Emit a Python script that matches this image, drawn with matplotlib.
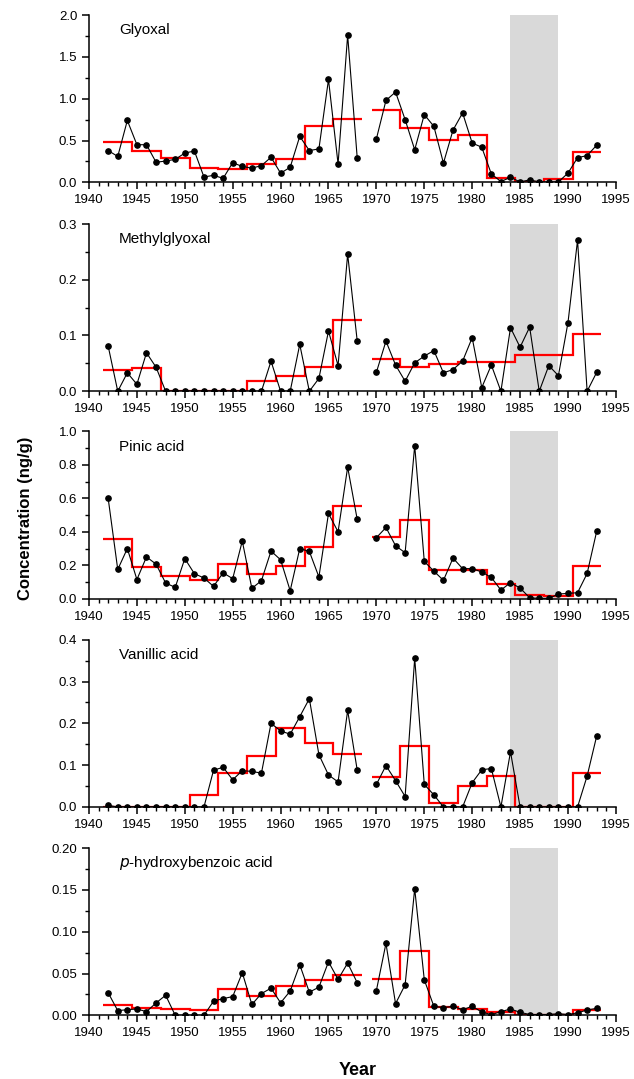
import numpy as np
import matplotlib.pyplot as plt
from matplotlib.ticker import MultipleLocator

plt.rcParams['font.family'] = ['Liberation Sans', 'DejaVu Sans']

# years with measurements (no sample for 1969)
years_a = np.arange(1942, 1969)
years_b = np.arange(1970, 1994)
# 3-year bin edges for the red averages
edges_a = np.arange(1941.5, 1969, 3)
edges_b = np.arange(1969.5, 1994, 3)

# --- Glyoxal ---
gly_a = [0.38, 0.31, 0.74, 0.45, 0.45, 0.24, 0.255, 0.275, 0.35, 0.375, 0.064, 0.084, 0.048, 0.235,
         0.19, 0.17, 0.20, 0.30, 0.11, 0.18, 0.55, 0.38, 0.40, 1.23, 0.22, 1.76, 0.29]
gly_b = [0.52, 0.98, 1.08, 0.75, 0.39, 0.81, 0.67, 0.23, 0.625, 0.83, 0.47, 0.42, 0.10, 0.01,
         0.06, 0.005, 0.03, 0.005, 0.005, 0.005, 0.11, 0.295, 0.32, 0.445]
gly_avg_a = [0.48, 0.38, 0.29, 0.17, 0.155, 0.22, 0.28, 0.67, 0.76]
gly_avg_b = [0.86, 0.65, 0.505, 0.57, 0.05, 0.01, 0.035, 0.36]

# --- Methylglyoxal ---
mgly_a = [0.081, 0.0, 0.033, 0.0125, 0.069, 0.043, 0.0, 0.0, 0.0, 0.0, 0.0, 0.0, 0.0, 0.0,
          0.0, 0.0, 0.0, 0.054, 0.0, 0.0, 0.084, 0.0, 0.023, 0.108, 0.046, 0.246, 0.090]
mgly_b = [0.034, 0.090, 0.047, 0.018, 0.051, 0.063, 0.073, 0.033, 0.039, 0.054, 0.096, 0.0066,
          0.047, 0.0, 0.114, 0.079, 0.115, 0.0, 0.046, 0.028, 0.123, 0.271, 0.0, 0.034]
mgly_avg_a = [0.038, 0.041, 0.0, 0.0, 0.0, 0.018, 0.028, 0.044, 0.127]
mgly_avg_b = [0.057, 0.044, 0.048, 0.052, 0.053, 0.065, 0.065, 0.102]

# --- Pinic acid ---
pin_a = [0.60, 0.175, 0.30, 0.115, 0.25, 0.207, 0.094, 0.068, 0.24, 0.15, 0.124, 0.074, 0.155,
         0.12, 0.345, 0.062, 0.108, 0.285, 0.233, 0.048, 0.30, 0.283, 0.13, 0.51, 0.40, 0.787, 0.474]
pin_b = [0.365, 0.426, 0.317, 0.275, 0.916, 0.223, 0.165, 0.11, 0.243, 0.18, 0.18, 0.16, 0.127,
         0.052, 0.096, 0.064, 0.006, 0.002, 0.002, 0.028, 0.032, 0.036, 0.151, 0.404]
pin_avg_a = [0.358, 0.19, 0.135, 0.115, 0.207, 0.15, 0.195, 0.307, 0.554]
pin_avg_b = [0.367, 0.472, 0.171, 0.171, 0.09, 0.024, 0.018, 0.197]

# --- Vanillic acid ---
van_a = [0.004, 0.0, 0.0, 0.0, 0.0, 0.0, 0.0, 0.0, 0.0, 0.0, 0.0, 0.088, 0.095, 0.065, 0.087,
         0.085, 0.081, 0.20, 0.182, 0.174, 0.216, 0.259, 0.125, 0.0765, 0.06, 0.231, 0.088]
van_b = [0.054, 0.099, 0.063, 0.025, 0.356, 0.054, 0.029, 0.0, 0.0, 0.0, 0.058, 0.089, 0.092,
         0.0, 0.132, 0.0, 0.0, 0.0, 0.0, 0.0, 0.0, 0.0, 0.074, 0.17]
van_avg_a = [0.0, 0.0, 0.0, 0.0295, 0.082, 0.122, 0.19, 0.154, 0.126]
van_avg_b = [0.072, 0.145, 0.0096, 0.049, 0.075, 0.0, 0.0, 0.081]

# --- p-hydroxybenzoic acid ---
phb_a = [0.027, 0.0056, 0.0068, 0.0076, 0.0044, 0.0148, 0.024, 0.0, 0.0, 0.0, 0.0, 0.017, 0.020,
         0.0224, 0.051, 0.013, 0.026, 0.0325, 0.015, 0.029, 0.0605, 0.0277, 0.0337, 0.064, 0.043,
         0.0625, 0.039]
phb_b = [0.0297, 0.086, 0.014, 0.0365, 0.1515, 0.0425, 0.0108, 0.0092, 0.0108, 0.0068, 0.0108,
         0.004, 0.0008, 0.0044, 0.0076, 0.0036, 0.001, 0.001, 0.001, 0.002, 0.001, 0.003, 0.0064,
         0.0084]
phb_avg_a = [0.0128, 0.0092, 0.008, 0.006, 0.031, 0.0236, 0.0345, 0.0417, 0.048]
phb_avg_b = [0.0433, 0.0766, 0.0104, 0.0072, 0.004, 0.001, 0.001, 0.006]

panels = [
    ("Glyoxal", gly_a, gly_b, gly_avg_a, gly_avg_b, 2.0, 0.5),
    ("Methylglyoxal", mgly_a, mgly_b, mgly_avg_a, mgly_avg_b, 0.3, 0.1),
    ("Pinic acid", pin_a, pin_b, pin_avg_a, pin_avg_b, 1.0, 0.2),
    ("Vanillic acid", van_a, van_b, van_avg_a, van_avg_b, 0.4, 0.1),
    ("$p$-hydroxybenzoic acid", phb_a, phb_b, phb_avg_a, phb_avg_b, 0.2, 0.05),
]
ytick_fmt = ["%.1f", "%.1f", "%.1f", "%.1f", "%.2f"]

fig = plt.figure(figsize=(6.34, 10.79), dpi=100)
bottoms = [0.8310, 0.6374, 0.4451, 0.2521, 0.0590]

for i, (name, ya, yb, avga, avgb, ymax, ystep) in enumerate(panels):
    ax = fig.add_axes([0.1404, bottoms[i], 0.831, 0.155])
    ax.axvspan(1984, 1989, color='#d9d9d9', lw=0, zorder=0)
    ax.stairs(avga, edges_a, baseline=None, color='red', lw=1.6, zorder=2)
    ax.stairs(avgb, edges_b, baseline=None, color='red', lw=1.6, zorder=2)
    ax.plot(years_a, ya, '-o', color='black', lw=0.8, ms=3.8, zorder=3)
    ax.plot(years_b, yb, '-o', color='black', lw=0.8, ms=3.8, zorder=3)

    ax.set_xlim(1940, 1995)
    ax.set_ylim(0, ymax)
    ax.xaxis.set_major_locator(MultipleLocator(5))
    ax.xaxis.set_minor_locator(MultipleLocator(1))
    ax.yaxis.set_major_locator(MultipleLocator(ystep))
    ax.yaxis.set_minor_locator(MultipleLocator(ystep / 2))
    ax.yaxis.set_major_formatter(plt.FormatStrFormatter(ytick_fmt[i]))
    for s in ['top', 'right']:
        ax.spines[s].set_visible(False)
    for s in ['left', 'bottom']:
        ax.spines[s].set_linewidth(1.1)
    ax.tick_params(which='major', direction='out', length=5, width=1.1, labelsize=9.5)
    ax.tick_params(which='minor', direction='out', length=3, width=1.0)
    ax.text(0.057, 0.91, name, transform=ax.transAxes, fontsize=11, va='center', ha='left')

fig.text(0.040, 0.52, "Concentration (ng/g)", rotation=90, fontsize=12, fontweight='bold',
         ha='center', va='center')
fig.text(0.564, 0.0083, "Year", fontsize=13, fontweight='bold', ha='center', va='center')

fig.savefig("out.png", dpi=100)
